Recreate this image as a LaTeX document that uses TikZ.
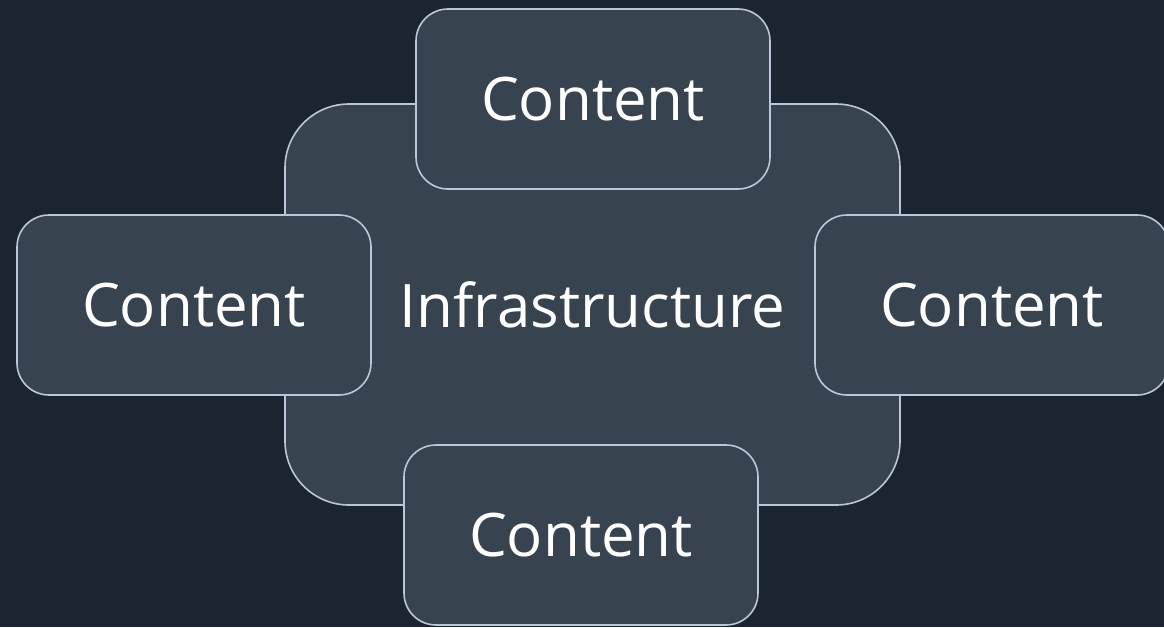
\documentclass[tikz,border=0pt]{standalone}
\usepackage{fontspec}
\setmainfont{Open Sans}
\definecolor{fond}{HTML}{1B2530}
\definecolor{boite}{HTML}{37434F}
\definecolor{bord}{HTML}{B8C8D8}
\tikzset{
  boite/.style={draw=bord, line width=1.6pt, fill=boite, rounded corners=32pt,
    minimum width=354pt, minimum height=180pt, text=white,
    font=\fontsize{60}{70}\selectfont},
  centre/.style={boite, rounded corners=64pt, minimum width=615pt, minimum height=401pt}
}
\begin{document}
\begin{tikzpicture}[x=1pt,y=-1pt]

% Fond
\fill[fond] (0,0) rectangle (1164,627);
\useasboundingbox (0,0) rectangle (1164,627);

% Infrastructure
\node[centre] (infra) at (592.5,304.5) {Infrastructure};

% Contenus
\node[boite] (haut) at (593,99) {Content};
\node[boite] (gauche) at (194,305) {Content};
\node[boite] (droite) at (992,305) {Content};
\node[boite] (bas) at (581,535) {Content};

\end{tikzpicture}
\end{document}
